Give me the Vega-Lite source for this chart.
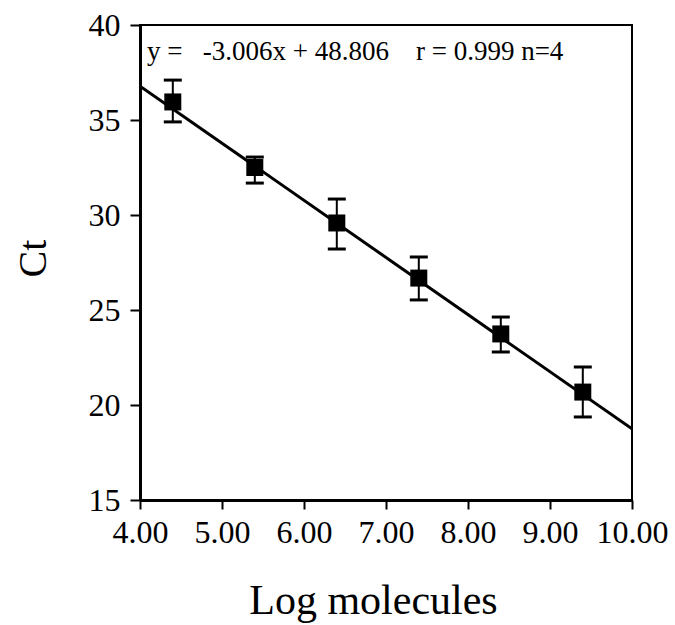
{
  "$schema": "https://vega.github.io/schema/vega-lite/v6.json",
  "width": 492,
  "height": 475,
  "autosize": "none",
  "padding": {"left": 140, "top": 25, "right": 43, "bottom": 125},
  "background": "white",
  "datasets": {
    "pts": [
      {"x": 4.4, "ct": 35.95, "lo": 34.9, "hi": 37.1},
      {"x": 5.4, "ct": 32.5, "lo": 31.68, "hi": 33.05},
      {"x": 6.4, "ct": 29.58, "lo": 28.21, "hi": 30.84},
      {"x": 7.4, "ct": 26.68, "lo": 25.53, "hi": 27.79},
      {"x": 8.4, "ct": 23.74, "lo": 22.79, "hi": 24.63},
      {"x": 9.4, "ct": 20.68, "lo": 19.37, "hi": 22.0}
    ],
    "fit": [
      {"x": 4.0, "ct": 36.782},
      {"x": 10.0, "ct": 18.746}
    ],
    "note": [
      {"x": 4.085, "ct": 38.58, "label": "y =\u00a0\u00a0\u00a0-3.006x + 48.806\u00a0\u00a0\u00a0\u00a0r = 0.999 n=4"}
    ]
  },
  "layer": [
    {
      "data": {"name": "fit"},
      "mark": {"type": "line", "color": "black", "strokeWidth": 3, "clip": true},
      "encoding": {
        "x": {"field": "x", "type": "quantitative"},
        "y": {"field": "ct", "type": "quantitative"}
      }
    },
    {
      "data": {"name": "pts"},
      "mark": {"type": "rule", "color": "black", "strokeWidth": 2},
      "encoding": {
        "x": {"field": "x", "type": "quantitative"},
        "y": {"field": "lo", "type": "quantitative"},
        "y2": {"field": "hi"}
      }
    },
    {
      "data": {"name": "pts"},
      "mark": {"type": "tick", "color": "black", "orient": "horizontal", "size": 18, "thickness": 3, "opacity": 1},
      "encoding": {
        "x": {"field": "x", "type": "quantitative"},
        "y": {"field": "lo", "type": "quantitative"}
      }
    },
    {
      "data": {"name": "pts"},
      "mark": {"type": "tick", "color": "black", "orient": "horizontal", "size": 18, "thickness": 3, "opacity": 1},
      "encoding": {
        "x": {"field": "x", "type": "quantitative"},
        "y": {"field": "hi", "type": "quantitative"}
      }
    },
    {
      "data": {"name": "pts"},
      "mark": {"type": "point", "shape": "square", "filled": true, "color": "black", "size": 289, "opacity": 1},
      "encoding": {
        "x": {
          "field": "x", "type": "quantitative",
          "scale": {"domain": [4, 10], "nice": false, "zero": false},
          "axis": {
            "title": "Log molecules",
            "values": [4, 5, 6, 7, 8, 9, 10],
            "format": ".2f",
            "titleX": 233, "titleY": 113, "titleAlign": "center", "titleBaseline": "alphabetic",
            "titleFontSize": 42,
            "labelFontSize": 32,
            "tickSize": 9,
            "labelPadding": 8,
            "labelFlush": false,
            "labelOverlap": false
          }
        },
        "y": {
          "field": "ct", "type": "quantitative",
          "scale": {"domain": [15, 40], "nice": false, "zero": false},
          "axis": {
            "title": "Ct",
            "values": [15, 20, 25, 30, 35, 40],
            "format": "d",
            "titleX": -95, "titleY": 233, "titleAlign": "center", "titleBaseline": "alphabetic",
            "titleAngle": -90,
            "titleFontSize": 40,
            "labelFontSize": 32,
            "tickSize": 10,
            "labelPadding": 10,
            "labelFlush": false,
            "labelOverlap": false
          }
        }
      }
    },
    {
      "data": {"name": "note"},
      "mark": {"type": "text", "align": "left", "baseline": "middle", "fontSize": 27, "font": "Liberation Serif", "color": "black"},
      "encoding": {
        "x": {"field": "x", "type": "quantitative"},
        "y": {"field": "ct", "type": "quantitative"},
        "text": {"field": "label"}
      }
    }
  ],
  "config": {
    "view": {"stroke": "black", "strokeWidth": 2},
    "font": "Liberation Serif",
    "axis": {
      "grid": false,
      "domainColor": "black",
      "domainWidth": 3,
      "tickColor": "black",
      "tickWidth": 2,
      "labelColor": "black",
      "titleColor": "black",
      "labelFont": "Liberation Serif",
      "titleFont": "Liberation Serif",
      "titleFontWeight": "normal"
    }
  }
}
